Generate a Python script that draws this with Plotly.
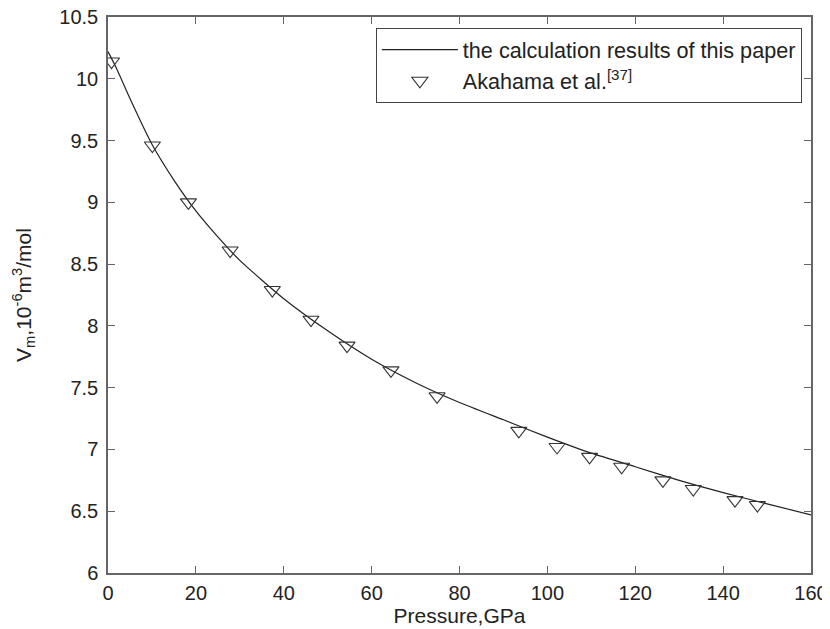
import plotly.graph_objects as go

# calculated curve
calc_p = [0, 2, 5, 10, 15, 20, 25, 30, 40, 50, 60, 70, 80, 90, 100, 110, 120, 130, 140, 150, 160]
calc_v = [10.22, 10.08, 9.84, 9.47, 9.18, 8.93, 8.72, 8.53, 8.22, 7.96, 7.73, 7.54, 7.38, 7.24,
          7.10, 6.97, 6.86, 6.75, 6.65, 6.56, 6.47]

# Akahama et al. data
exp_p = [0.8, 10.1, 18.3, 27.8, 37.4, 46.2, 54.4, 64.4, 74.9, 93.5, 102.2, 109.6, 116.9,
         126.3, 133.2, 142.7, 147.8]
exp_v = [10.14, 9.46, 9.00, 8.61, 8.29, 8.05, 7.84, 7.64, 7.43, 7.15, 7.02, 6.94, 6.86,
         6.75, 6.68, 6.59, 6.55]

x_ticks = [0, 20, 40, 60, 80, 100, 120, 140, 160]
y_ticks = [6, 6.5, 7, 7.5, 8, 8.5, 9, 9.5, 10, 10.5]

fig = go.Figure()
fig.add_trace(go.Scatter(
    x=calc_p, y=calc_v, mode="lines", name="the calculation results of this paper",
    line=dict(color="#222", width=1.2, shape="spline", smoothing=0.6),
))
fig.add_trace(go.Scatter(
    x=exp_p, y=exp_v, mode="markers", name="Akahama et al.<sup>[37]</sup>",
    marker=dict(symbol="triangle-down-open", size=14, color="#333", line=dict(width=1.1)),
))

axis = dict(
    showline=True, linecolor="#666", linewidth=1.5, mirror="ticks",
    ticks="inside", ticklen=7, tickcolor="#666", tickwidth=1,
    showgrid=False, zeroline=False, automargin=False, ticklabeloverflow="allow",
    tickfont=dict(size=20, color="#222"),
)
# the page body has an 8px margin, so the figure is shifted by 8px right and down
fig.update_layout(
    width=822, height=621,
    paper_bgcolor="white", plot_bgcolor="white",
    font=dict(family="Liberation Sans, Arial, sans-serif", color="#222"),
    margin=dict(l=100, r=19, t=9, b=56),
    xaxis=dict(axis, range=[0, 160], tickvals=x_ticks, ticklabelstandoff=1,
               title=dict(text="Pressure,GPa", font=dict(size=21), standoff=2)),
    yaxis=dict(axis, range=[6, 10.5], tickvals=y_ticks, ticktext=[f"{v:g}" for v in y_ticks],
               ticklabelstandoff=4,
               title=dict(text="V<sub>m</sub>,10<sup>-6</sup>m<sup>3</sup>/mol",
                          font=dict(size=21), standoff=22)),
    legend=dict(
        x=0.987, y=0.98, xanchor="right", yanchor="top",
        bordercolor="#444", borderwidth=1, bgcolor="white",
        font=dict(size=21.6, color="#222"), tracegroupgap=0, itemwidth=76,
    ),
)

fig.write_html("out.html")
